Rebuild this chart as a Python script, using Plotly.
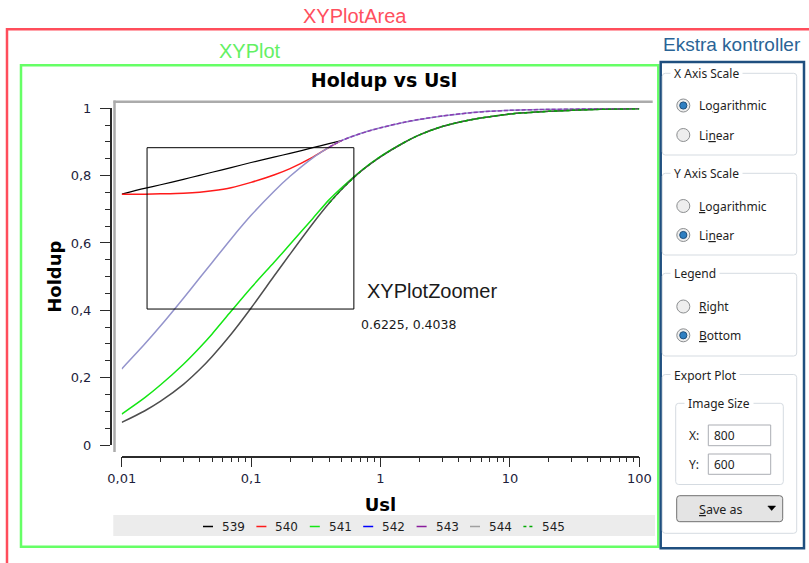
import plotly.graph_objects as go

W, H = 809, 563

# ---- data -------------------------------------------------------------
usl = [0.01, 0.015, 0.02, 0.03, 0.04, 0.05, 0.07, 0.1, 0.15, 0.2, 0.3, 0.4,
       0.5, 0.7, 1, 1.5, 2, 3, 5, 7, 10, 20, 30, 50, 100]

holdup_539 = [0.745, 0.762, 0.773, 0.789, 0.801, 0.810, 0.824, 0.839, 0.855,
              0.866, 0.883, 0.895, 0.904] + [None] * 12
holdup_540 = [0.745, 0.745, 0.746, 0.748, 0.751, 0.755, 0.764, 0.780, 0.802,
              0.821, 0.855, 0.884, 0.904] + [None] * 12
holdup_541 = [0.092, 0.140, 0.179, 0.240, 0.289, 0.330, 0.397, 0.467, 0.542,
              0.596, 0.673, 0.728, 0.764, 0.813, 0.857, 0.897, 0.921, 0.946,
              0.966, 0.975, 0.983, 0.991, 0.994, 0.997, 0.999]
holdup_542 = [0.226, 0.299, 0.354, 0.436, 0.496, 0.542, 0.612, 0.682, 0.753,
              0.798, 0.853, 0.884, 0.904, 0.925, 0.942, 0.958, 0.967, 0.977,
              0.987, 0.991, 0.994, 0.997, 0.998, 0.999, 1.000]
holdup_543 = [None] * 11 + [0.884, 0.904, 0.925, 0.942, 0.958, 0.967, 0.977,
                            0.987, 0.991, 0.994, 0.997, 0.998, 0.999, 1.000]
holdup_544 = [0.067, 0.101, 0.130, 0.180, 0.224, 0.263, 0.329, 0.407, 0.501,
              0.567, 0.658, 0.718, 0.759, 0.812, 0.856, 0.897, 0.921, 0.946,
              0.966, 0.975, 0.983, 0.991, 0.994, 0.997, 0.999]
holdup_545 = [None] * 11 + [0.718, 0.759, 0.812, 0.856, 0.897, 0.921, 0.946,
                            0.966, 0.975, 0.983, 0.991, 0.994, 0.997, 0.999]

series_names = ["539", "540", "541", "542", "543", "544", "545"]
series_values = [holdup_539, holdup_540, holdup_541, holdup_542,
                 holdup_543, holdup_544, holdup_545]
# legend key colours, and the stroke used for each curve on the plot
series_colors = ["#000000", "#ff1a1a", "#14e614", "#0000ff", "#8a1c9c",
                 "#a0a0a0", "#00aa00"]
line_colors = ["#000000", "#ff1a1a", "#14e614", "#9494cc", "#8a3cb4",
               "#4e4e4e", "#00aa00"]
series_dash = ["solid", "solid", "solid", "solid", "4px,2px", "solid", "dot"]
line_widths = [1.2, 1.5, 1.5, 1.5, 1.5, 1.5, 1.5]

x_tickvals = [0.01, 0.1, 1, 10, 100]
x_ticktext = ["0,01", "0,1", "1", "10", "100"]
y_tickvals = [0, 0.2, 0.4, 0.6, 0.8, 1.0]
y_ticktext = ["0", "0,2", "0,4", "0,6", "0,8", "1"]

# zoom rectangle (lower-right corner is reported under the box)
zoom_x = [0.0157, 0.6225]
zoom_y = [0.4038, 0.883]


# ---- helpers: pixel position -> paper fraction --------------------------
def fx(x):
    return x / W


def fy(y):
    return 1 - y / H


def rrect(x0, y0, x1, y1, r, line, fill="rgba(0,0,0,0)", width=1, layer="above"):
    p = (f"M{fx(x0 + r)},{fy(y0)} L{fx(x1 - r)},{fy(y0)} "
         f"Q{fx(x1)},{fy(y0)} {fx(x1)},{fy(y0 + r)} L{fx(x1)},{fy(y1 - r)} "
         f"Q{fx(x1)},{fy(y1)} {fx(x1 - r)},{fy(y1)} L{fx(x0 + r)},{fy(y1)} "
         f"Q{fx(x0)},{fy(y1)} {fx(x0)},{fy(y1 - r)} L{fx(x0)},{fy(y0 + r)} "
         f"Q{fx(x0)},{fy(y0)} {fx(x0 + r)},{fy(y0)} Z")
    return dict(type="path", xref="paper", yref="paper", path=p,
                line=dict(color=line, width=width), fillcolor=fill, layer=layer)


def prect(x0, y0, x1, y1, color, width=1, fill="rgba(0,0,0,0)", layer="above"):
    return dict(type="rect", xref="paper", yref="paper",
                x0=fx(x0), x1=fx(x1), y0=fy(y1), y1=fy(y0),
                line=dict(color=color, width=width), fillcolor=fill, layer=layer)


def pline(x0, y0, x1, y1, color, width=1, dash="solid"):
    return dict(type="line", xref="paper", yref="paper",
                x0=fx(x0), x1=fx(x1), y0=fy(y0), y1=fy(y1),
                line=dict(color=color, width=width, dash=dash))


def ptext(x, y, text, size=12, color="#1e1e1e", family="Noto Sans",
          xanchor="left", bg=None):
    a = dict(x=fx(x), y=fy(y), xref="paper", yref="paper", text=text,
             showarrow=False, xanchor=xanchor, yanchor="middle",
             font=dict(size=size, color=color, family=family))
    if bg:
        a["bgcolor"] = bg
        a["borderpad"] = 0
    return a


fig = go.Figure()

for name, vals, col, dash, lw in zip(series_names, series_values, line_colors,
                                     series_dash, line_widths):
    fig.add_trace(go.Scatter(
        x=usl, y=vals, name=name, mode="lines",
        line=dict(color=col, width=lw, dash=dash, shape="spline", smoothing=0.8),
        showlegend=False, hoverinfo="skip"))

shapes = []
annotations = []

# outer frames with their captions
shapes.append(prect(7, 29.3, 830, 600, "#ff4d5b", 2.5))
shapes.append(prect(21, 65.3, 658.3, 546.7, "#66ff66", 2.5))
shapes.append(prect(660.7, 62, 804, 548.3, "#1f4f7f", 2.5))
annotations.append(ptext(355, 16, "XYPlotArea", 20, "#ff4f5e", "Liberation Sans", "center"))
annotations.append(ptext(250, 51.5, "XYPlot", 20, "#63f063", "Liberation Sans", "center"))
annotations.append(ptext(661, 45, "Ekstra kontroller", 19, "#2a6496", "Liberation Sans"))

# grey plot frame (top and left)
shapes.append(pline(113.5, 101.7, 652.7, 101.7, "#ababab", 2.5))
shapes.append(pline(114.5, 100.5, 114.5, 452, "#ababab", 2.5))

# zoomer rectangle and its readout
shapes.append(dict(type="rect", xref="x", yref="y",
                   x0=zoom_x[0], x1=zoom_x[1], y0=zoom_y[0], y1=zoom_y[1],
                   line=dict(color="#000000", width=1)))
annotations.append(ptext(365, 291, "XYPlotZoomer", 20, "#1a1a1a", "Liberation Sans"))
annotations.append(ptext(359, 324, f"{zoom_x[1]:.4f}, {zoom_y[0]:.4f}", 12.5,
                         "#1a1a1a", "DejaVu Sans"))

# legend band below the plot
shapes.append(prect(113.3, 515, 655, 536, "rgba(0,0,0,0)", 0, "#ececec", "below"))
legend_x0 = 203
legend_step = 53.4
for i, (name, col) in enumerate(zip(series_names, series_colors)):
    d = legend_x0 + i * legend_step
    shapes.append(pline(d, 526.5, d + 10, 526.5, col, 1.5,
                        "dot" if series_dash[i] == "dot" else "solid"))
    annotations.append(ptext(d + 17, 526.5, name, 12, "#1e1e1e", "DejaVu Sans"))

# ---- control panel ----------------------------------------------------
panel_border = "#d5dbe1"
groups = [
    ("X Axis Scale", 662.3, 73.3, 796.7, 155),
    ("Y Axis Scale", 662.3, 173.3, 796.7, 255),
    ("Legend", 662.3, 273.3, 796.7, 356),
    ("Export Plot", 662.3, 374.5, 796.7, 533.3),
    ("Image Size", 675.7, 403.3, 783.3, 484.5),
]
for title, x0, y0, x1, y1 in groups:
    shapes.append(rrect(x0, y0, x1, y1, 3, panel_border))
    tx = 684 if title == "Image Size" else 669.5
    annotations.append(ptext(tx, y0 + 0.5, " " + title + " ", 12, "#1e1e1e",
                             "Noto Sans", bg="#ffffff"))

radios = [
    ("Lo<u>g</u>arithmic", 105.5, True),
    ("Li<u>n</u>ear", 135, False),
    ("<u>L</u>ogarithmic", 206, False),
    ("Li<u>n</u>ear", 235, True),
    ("<u>R</u>ight", 306.5, False),
    ("<u>B</u>ottom", 335.3, True),
]
for label, cy, on in radios:
    cx, r = 683.3, 6.5
    shapes.append(dict(type="circle", xref="paper", yref="paper",
                       x0=fx(cx - r), x1=fx(cx + r), y0=fy(cy + r), y1=fy(cy - r),
                       line=dict(color="#8c8e90", width=1), fillcolor="#eeeeee"))
    if on:
        ri = 3.6
        shapes.append(dict(type="circle", xref="paper", yref="paper",
                           x0=fx(cx - ri), x1=fx(cx + ri), y0=fy(cy + ri), y1=fy(cy - ri),
                           line=dict(color="#1d4f7c", width=1), fillcolor="#2f7fc1"))
    annotations.append(ptext(697, cy, label, 12, "#1e1e1e", "Noto Sans"))

# image size inputs
for lbl, val, y0, y1 in [("X:", "800", 425, 445.7), ("Y:", "600", 454, 474.3)]:
    shapes.append(prect(708.3, y0, 770.7, y1, "#abadb3", 1, "#ffffff"))
    annotations.append(ptext(686.5, (y0 + y1) / 2, lbl, 12, "#1e1e1e", "Noto Sans"))
    annotations.append(ptext(712, (y0 + y1) / 2, val, 12, "#1e1e1e", "Noto Sans"))

# "Save as" button with drop-down arrow
shapes.append(rrect(676.7, 495.7, 782.7, 521.7, 3, "#707070", "#e4e4e4"))
annotations.append(ptext(721, 509, "<u>S</u>ave as", 12.5, "#1e1e1e", "Noto Sans", "center"))
shapes.append(dict(type="path", xref="paper", yref="paper",
                   path=f"M{fx(767.8)},{fy(506)} L{fx(775.6)},{fy(506)} "
                        f"L{fx(771.7)},{fy(510.5)} Z",
                   fillcolor="#000000", line=dict(color="#000000", width=0.5)))

# ---- axes ----------------------------------------------------------------
axis_col = "#2b2b2b"
tick_font = dict(family="DejaVu Sans", size=13, color="#1e1e3c")

x_minor = [m * 10 ** e for e in range(-2, 2) for m in range(2, 10)]
y_minor = [k / 20 for k in range(1, 20) if k % 4 != 0]

fig.update_layout(
    width=W, height=H,
    margin=dict(l=0, r=0, t=0, b=0, autoexpand=False),
    paper_bgcolor="#ffffff", plot_bgcolor="#ffffff",
    showlegend=False,
    title=dict(text="<b>Holdup vs Usl</b>", x=fx(384), y=fy(80),
               xanchor="center", yanchor="middle", automargin=False,
               font=dict(family="DejaVu Sans", size=19, color="#000000")),
    xaxis=dict(
        type="log", range=[-2, 2], automargin=False,
        domain=[fx(121.7), fx(639.3)], anchor="free", position=fy(456.7),
        showline=True, linecolor=axis_col, linewidth=1.5,
        ticks="outside", ticklen=10, tickwidth=1, tickcolor=axis_col,
        tickmode="array", tickvals=x_tickvals, ticktext=x_ticktext,
        tickfont=tick_font, showgrid=False, zeroline=False,
        minor=dict(tickmode="array", tickvals=x_minor, ticks="outside",
                   ticklen=5, tickwidth=1, tickcolor=axis_col, showgrid=False),
        title=dict(text="<b>Usl</b>", standoff=12,
                   font=dict(family="DejaVu Sans", size=18, color="#000000")),
    ),
    yaxis=dict(
        range=[0, 1], automargin=False,
        domain=[fy(445), fy(108.3)], anchor="free", position=fx(110.7),
        showline=True, linecolor=axis_col, linewidth=1.5,
        ticks="outside", ticklen=10, tickwidth=1, tickcolor=axis_col,
        tickmode="array", tickvals=y_tickvals, ticktext=y_ticktext,
        tickfont=tick_font, showgrid=False, zeroline=False,
        ticklabelstandoff=6,
        minor=dict(tickmode="array", tickvals=y_minor, ticks="outside",
                   ticklen=5, tickwidth=1, tickcolor=axis_col, showgrid=False),
        title=dict(text="<b>Holdup</b>", standoff=3,
                   font=dict(family="DejaVu Sans", size=18, color="#000000")),
    ),
    shapes=shapes,
    annotations=annotations,
)

fig.write_html("out.html")
